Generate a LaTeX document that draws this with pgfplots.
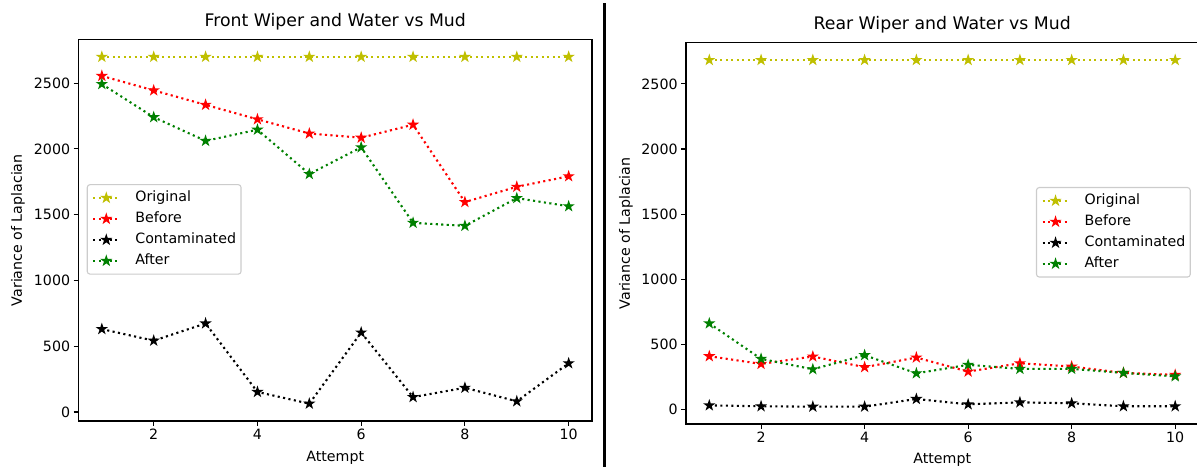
\documentclass[border=0pt]{standalone}
\usepackage{fontspec}
\setmainfont{DejaVu Sans}
\usepackage{pgfplots}
\pgfplotsset{compat=1.18}

\definecolor{mplY}{rgb}{0.75,0.75,0}
\definecolor{mplR}{rgb}{1,0,0}
\definecolor{mplK}{rgb}{0,0,0}
\definecolor{mplG}{rgb}{0,0.5,0}

\pgfdeclareplotmark{fstar}{%
  \pgfpathmoveto{\pgfpointpolar{90}{\pgfplotmarksize}}%
  \pgfpathlineto{\pgfpointpolar{126}{0.382\pgfplotmarksize}}%
  \pgfpathlineto{\pgfpointpolar{162}{\pgfplotmarksize}}%
  \pgfpathlineto{\pgfpointpolar{198}{0.382\pgfplotmarksize}}%
  \pgfpathlineto{\pgfpointpolar{234}{\pgfplotmarksize}}%
  \pgfpathlineto{\pgfpointpolar{270}{0.382\pgfplotmarksize}}%
  \pgfpathlineto{\pgfpointpolar{306}{\pgfplotmarksize}}%
  \pgfpathlineto{\pgfpointpolar{342}{0.382\pgfplotmarksize}}%
  \pgfpathlineto{\pgfpointpolar{18}{\pgfplotmarksize}}%
  \pgfpathlineto{\pgfpointpolar{54}{0.382\pgfplotmarksize}}%
  \pgfpathclose
  \pgfusepathqfillstroke
}

\newcommand{\fs}{\fontsize{14.2bp}{16.5bp}\selectfont}
\newcommand{\ft}{\fontsize{17.3bp}{20bp}\selectfont}

\pgfplotsset{
  mpl/.style={
    scale only axis,
    xmin=0.55, xmax=10.45,
    xtick={2,4,6,8,10},
    ytick={0,500,1000,1500,2000,2500},
    tick align=outside, tick pos=left,
    major tick length=4.9bp,
    major tick style={black, line width=1.1bp},
    axis line style={black, line width=1.1bp},
    tick label style={font=\fs},
    /pgf/number format/assume math mode=true,
    /pgf/number format/1000 sep={},
    scaled y ticks=false,
    label style={font=\fs},
    title style={font=\ft, at={(0.5,1)}, anchor=base, yshift=7.5bp},
    legend cell align=left,
    legend image code/.code={\draw[mark repeat=2,mark phase=2] plot coordinates {(0bp,0bp)(13bp,0bp)(26bp,0bp)};},
    legend style={draw=black!20, line width=1.1bp, rounded corners=2.8bp, fill=white, fill opacity=0.8, text opacity=1,
      inner xsep=5bp, inner ysep=6.5bp, font=\fs,
      nodes={inner sep=0pt, text height=10.5bp, text depth=3bp},
      row sep=7.5bp, column sep=15bp},
  },
  ser/.style={color=#1, line width=2.1bp, dash pattern=on 2.1bp off 3.4bp,
    mark=fstar, mark size=4.2bp, mark options={solid, line width=1.4bp, fill=#1}},
}

\begin{document}
\begin{tikzpicture}
\begin{axis}[mpl,
  at={(78.5bp,-421bp)}, anchor=south west,
  width=513.5bp, height=381.5bp,
  ymin=-68.85, ymax=2831.85,
  title={Front Wiper and Water vs Mud},
  xlabel={Attempt}, ylabel={Variance of Laplacian},
  xlabel style={at={(axis description cs:0.5,-0.097)}, anchor=center},
  ylabel style={at={(axis description cs:-0.1178,0.5)}, anchor=center},
  legend style={at={(0.016,0.621)}, anchor=north west},
]
\addplot[ser=mplY] coordinates {(1,2700)(2,2700)(3,2700)(4,2700)(5,2700)(6,2700)(7,2700)(8,2700)(9,2700)(10,2700)};
\addlegendentry{Original}
\addplot[ser=mplR] coordinates {(1,2555)(2,2445)(3,2335)(4,2225)(5,2117)(6,2085)(7,2184)(8,1596)(9,1712)(10,1792)};
\addlegendentry{Before}
\addplot[ser=mplK] coordinates {(1,630)(2,542)(3,673)(4,152)(5,63)(6,604)(7,113)(8,184)(9,81)(10,370)};
\addlegendentry{Contaminated}
\addplot[ser=mplG] coordinates {(1,2493)(2,2241)(3,2061)(4,2146)(5,1809)(6,2012)(7,1438)(8,1415)(9,1626)(10,1564)};
\addlegendentry{After}
\end{axis}

\begin{axis}[mpl,
  at={(686bp,-424bp)}, anchor=south west,
  width=512.5bp, height=381.3bp,
  ymin=-110, ymax=2816,
  title={Rear Wiper and Water vs Mud},
  xlabel={Attempt}, ylabel={Variance of Laplacian},
  xlabel style={at={(axis description cs:0.5,-0.094)}, anchor=center},
  ylabel style={at={(axis description cs:-0.117,0.5)}, anchor=center},
  legend style={at={(0.985,0.6216)}, anchor=north east},
]
\addplot[ser=mplY] coordinates {(1,2683)(2,2683)(3,2683)(4,2683)(5,2683)(6,2683)(7,2683)(8,2683)(9,2683)(10,2683)};
\addlegendentry{Original}
\addplot[ser=mplR] coordinates {(1,410)(2,351)(3,408)(4,326)(5,400)(6,292)(7,356)(8,331)(9,282)(10,267)};
\addlegendentry{Before}
\addplot[ser=mplK] coordinates {(1,33)(2,26)(3,23)(4,23)(5,82)(6,41)(7,56)(8,49)(9,26)(10,26)};
\addlegendentry{Contaminated}
\addplot[ser=mplG] coordinates {(1,662)(2,390)(3,310)(4,418)(5,279)(6,344)(7,313)(8,313)(9,282)(10,256)};
\addlegendentry{After}
\end{axis}

\draw[line width=3bp] (604bp,-3bp) -- (604bp,-467bp);
\pgfresetboundingbox
\path (0bp,0bp) rectangle (1197bp,-471bp);
\end{tikzpicture}
\end{document}
